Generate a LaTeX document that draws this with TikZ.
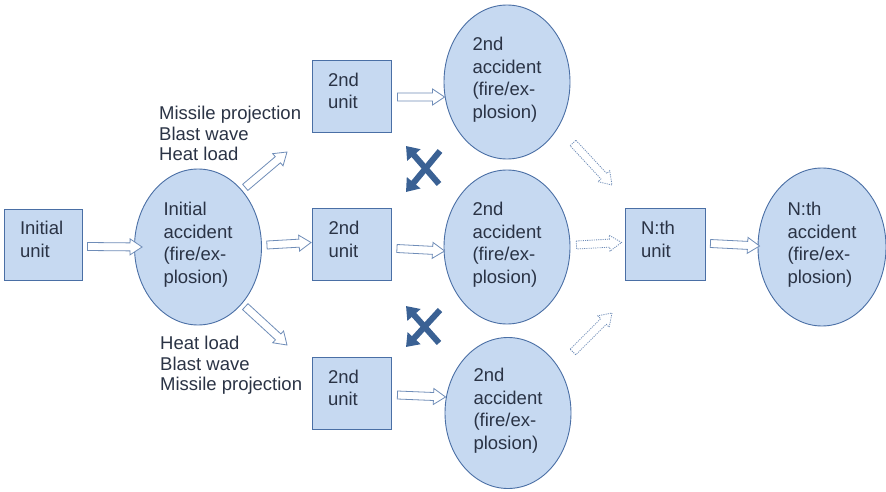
\documentclass[tikz,border=0pt]{standalone}
\usepackage{fontspec}
\setmainfont{Liberation Sans}
\usetikzlibrary{calc,shapes.geometric,arrows.meta}

\definecolor{boxfill}{HTML}{C6D9F1}
\definecolor{boxline}{HTML}{4A6FA5}
\definecolor{arrline}{HTML}{6F8DB8}
\definecolor{txt}{HTML}{2A3345}
\definecolor{crosscol}{HTML}{3A6194}

\tikzset{
  unitbox/.style={draw=boxline, fill=boxfill, line width=0.9pt,
    minimum width=79pt, minimum height=72pt, inner xsep=16pt, inner ysep=0pt,
    text width=47pt, align=left,
    font=\fontsize{18.5}{22.5}\selectfont, text=txt},
  accident/.style={ellipse, draw=boxline, fill=boxfill, line width=0.9pt,
    minimum width=126pt, minimum height=154pt, inner sep=0pt, align=left,
    font=\fontsize{18.5}{22.5}\selectfont, text=txt},
  loadtext/.style={font=\fontsize{18.5}{20.5}\selectfont, text=txt,
    align=left, inner sep=0pt, anchor=north west},
  hollow/.style={draw=arrline, fill=white, line width=0.8pt, line join=miter},
  hollowdot/.style={hollow, dash pattern=on 1.1pt off 1.1pt},
  crossarrow/.style={draw=crosscol, line width=6pt,
    -{Triangle[width=17pt,length=12pt]}}
}

% text of a unit box / an accident, set a little above the middle
\newcommand\unittext[1]{#1\\[-12.5pt]\mbox{}}
\newcommand\accidenttext[1]{#1\\accident\\(fire/ex-\\plosion)\\[-14.5pt]\mbox{}}

% hollow block arrow from #2 to #3, drawn with style #1
\newcommand\blockarrow[3][hollow]{%
  \coordinate (ba-a) at (#2);
  \coordinate (ba-b) at (#3);
  \coordinate (ba-p) at ($(ba-b)!12pt!(ba-a)$);
  \path[#1] ($(ba-a)!4pt!90:(ba-b)$) -- ($(ba-p)!4pt!90:(ba-b)$)
    -- ($(ba-p)!8pt!90:(ba-b)$) -- (ba-b)
    -- ($(ba-p)!8pt!-90:(ba-b)$) -- ($(ba-p)!4pt!-90:(ba-b)$)
    -- ($(ba-a)!4pt!-90:(ba-b)$) -- cycle;
}

\begin{document}
\begin{tikzpicture}[x=1pt, y=-1pt]
  \path[fill=white] (0,0) rectangle (886,492);
  \useasboundingbox (0,0) rectangle (886,492);

  % units and accidents
  \node[unitbox, minimum width=78pt, minimum height=71pt, text width=46pt] (iu) at (43,244.5) {\unittext{Initial\\unit}};
  \node[accident, minimum width=127pt, minimum height=156pt] (ia) at (198,247) {\accidenttext{Initial}};

  \node[unitbox] (u1) at (351.5,96) {\unittext{2nd\\unit}};
  \node[unitbox] (u2) at (352,244.5) {\unittext{2nd\\unit}};
  \node[unitbox] (u3) at (351.5,393) {\unittext{2nd\\unit}};

  \node[accident] (a1) at (507,82) {\accidenttext{2nd}};
  \node[accident] (a2) at (507,247) {\accidenttext{2nd}};
  \node[accident, minimum height=151pt] (a3) at (508,413) {\accidenttext{2nd}};

  \node[unitbox, minimum width=80pt, text width=48pt] (nu) at (665,244.5) {\unittext{N:th\\unit}};
  \node[accident, minimum width=128pt, minimum height=158pt] (na) at (822,247) {\accidenttext{N:th}};

  % loads acting on the neighbouring units
  \node[loadtext] (ltop) at (159,106) {Missile projection\\Blast wave\\Heat load};
  \node[loadtext] (lbot) at (160,336) {Heat load\\Blast wave\\Missile projection};

  % free ends of the diagonal arrows
  \coordinate (dup) at (287,152);
  \coordinate (ddn) at (287,345);
  \coordinate (nup) at (612,185);
  \coordinate (ndn) at (612,313);

  % escalation arrows
  \blockarrow{$(iu.east)+(5,2)$}{$(ia.west)+(8,0)$}
  \blockarrow{$(ia.east)+(5,-2)$}{$(u2.west)+(-1,-2)$}
  \blockarrow{$(ia.52)+(3,-3)$}{dup}
  \blockarrow{$(ia.-52)+(3,3)$}{ddn}

  \blockarrow{$(u1.east)+(6,1)$}{$(a1.west)+(1,15)$}
  \blockarrow{$(u2.east)+(5,4)$}{$(a2.west)+(1,4)$}
  \blockarrow{$(u3.east)+(6,2)$}{$(a3.west)+(1,-16)$}

  \blockarrow[hollowdot]{$(a1.center)+(66,61)$}{nup}
  \blockarrow[hollowdot]{$(a2.east)+(6,-2)$}{$(nu.west)+(-3,-2)$}
  \blockarrow[hollowdot]{$(a3.center)+(65,-61)$}{ndn}

  \blockarrow{$(nu.east)+(5,-1)$}{$(na.west)+(2,-1)$}

  % blocked interactions between neighbouring units
  \coordinate (c1a) at (439,184); \coordinate (c1b) at (406,146);
  \coordinate (c1c) at (440,151); \coordinate (c1d) at (406,192);
  \draw[crossarrow] (c1a) -- (c1b);
  \draw[crossarrow] (c1c) -- (c1d);

  \coordinate (c2a) at (439,343); \coordinate (c2b) at (406,306);
  \coordinate (c2c) at (440,310); \coordinate (c2d) at (406,347);
  \draw[crossarrow] (c2a) -- (c2b);
  \draw[crossarrow] (c2c) -- (c2d);
\end{tikzpicture}
\end{document}
